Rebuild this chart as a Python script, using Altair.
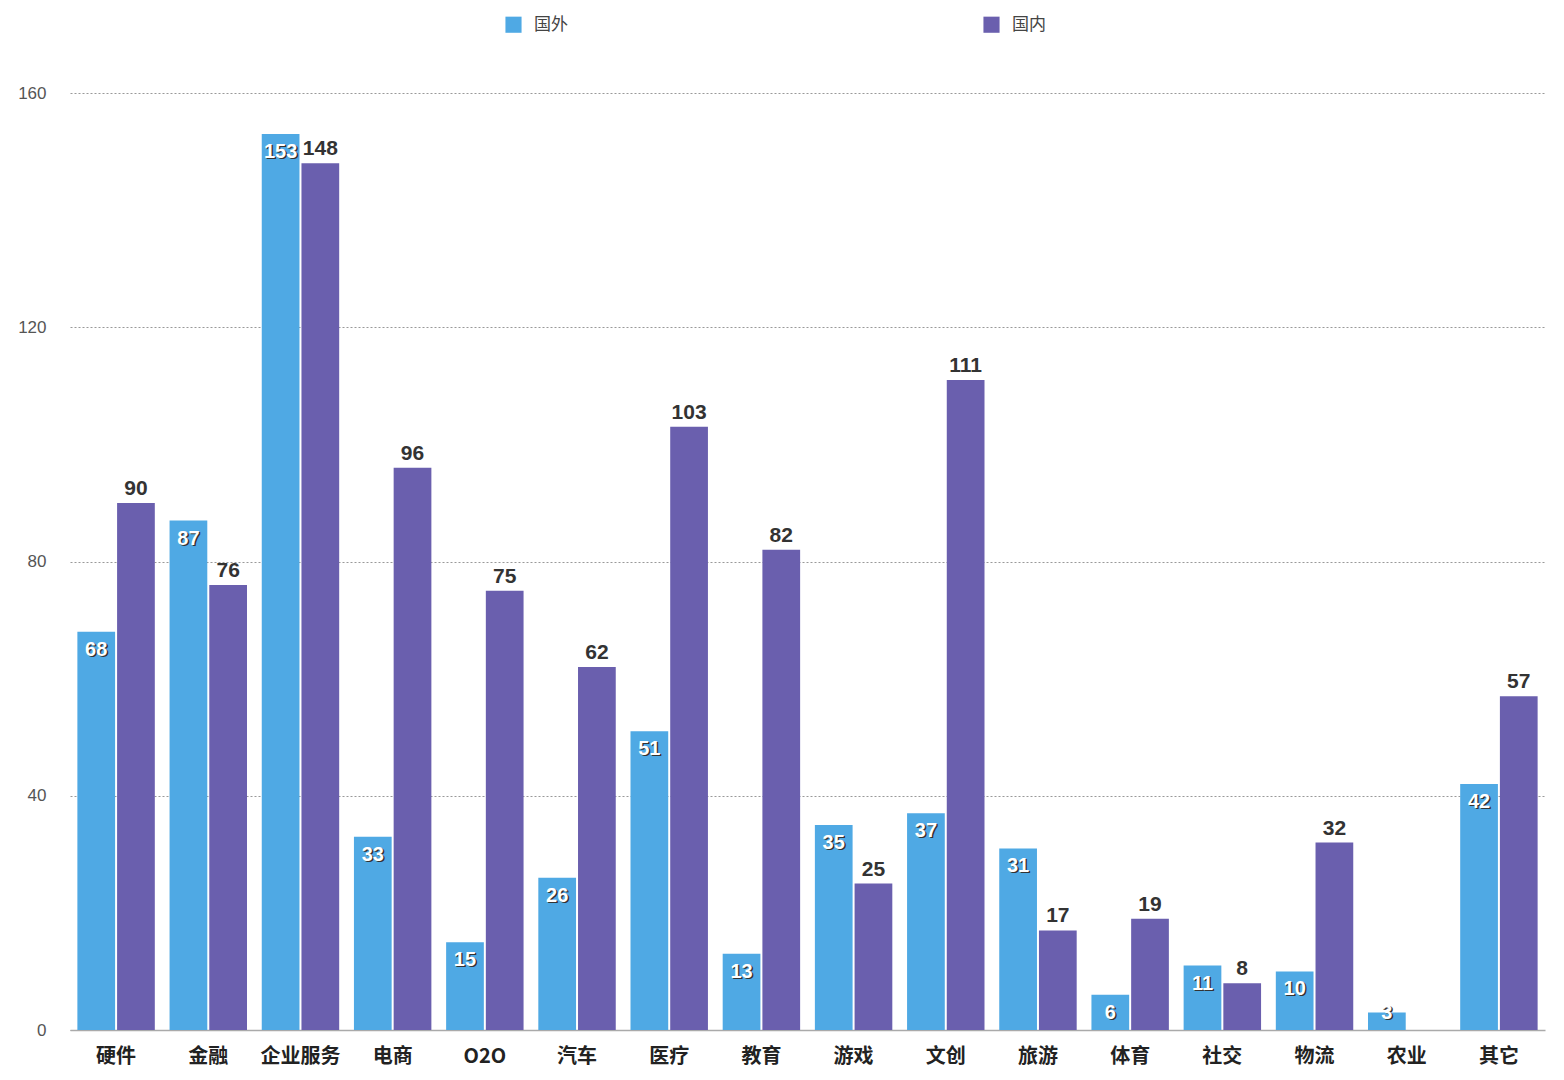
import altair as alt
import pandas as pd

categories = ["硬件", "金融", "企业服务", "电商", "O2O", "汽车", "医疗", "教育",
              "游戏", "文创", "旅游", "体育", "社交", "物流", "农业", "其它"]
foreign = [68, 87, 153, 33, 15, 26, 51, 13, 35, 37, 31, 6, 11, 10, 3, 42]
domestic = [90, 76, 148, 96, 75, 62, 103, 82, 25, 111, 17, 19, 8, 32, None, 57]
series = ["国外", "国内"]
colors = ["#4fa9e4", "#6a5fae"]

rows = []
for c, f, d in zip(categories, foreign, domestic):
    if f is not None:
        rows.append({"cat": c, "series": "国外", "value": f})
    if d is not None:
        rows.append({"cat": c, "series": "国内", "value": d})
df = pd.DataFrame(rows)

FONT = "Noto Sans CJK SC"

x = alt.X("cat:N", sort=categories, title=None,
          scale=alt.Scale(paddingInner=0.16, paddingOuter=0.08),
          axis=alt.Axis(labelAngle=0, labelFontSize=20, labelFontWeight="bold",
                        labelColor="#222", labelPadding=16, ticks=False,
                        domainColor="#aaaaaa", domainWidth=1.5, labelFont=FONT))
xo = alt.XOffset("series:N", sort=series, scale=alt.Scale(paddingInner=0.05))
y = alt.Y("value:Q", title=None,
          scale=alt.Scale(domain=[0, 160], nice=False),
          axis=alt.Axis(values=[0, 40, 80, 120, 160], labelFontSize=17,
                        labelColor="#555", labelPadding=24, ticks=False,
                        domain=False, gridDash=[2, 2], gridColor="#999",
                        gridWidth=1, labelFont="Helvetica"))
color = alt.Color("series:N", sort=series,
                  scale=alt.Scale(domain=series, range=colors),
                  legend=alt.Legend(title=None, orient="none", legendX=435,
                                    legendY=-77, direction="horizontal",
                                    columnPadding=415, symbolType="square",
                                    symbolSize=260, symbolStrokeWidth=0,
                                    labelFontSize=17, labelColor="#444",
                                    labelFont=FONT, labelOffset=12))

x_plain = alt.X("cat:N", sort=categories)
y_lab = alt.Y("labpos:Q")

bars = alt.Chart(df).mark_bar().encode(x=x, xOffset=xo, y=y, color=color)

blue = df[df["series"] == "国外"]
purple = df[df["series"] == "国内"]

shadow = alt.Chart(blue).transform_calculate(
    labpos="max(datum.value, 6)"
).mark_text(
    baseline="top", dy=9, dx=1.5, fontSize=20, fontWeight="bold",
    color="#333", font="Helvetica"
).encode(x=x_plain, xOffset=xo, y=y_lab, text="value:Q")

blue_text = alt.Chart(blue).transform_calculate(
    labpos="max(datum.value, 6)"
).mark_text(
    baseline="top", dy=8, fontSize=20, fontWeight="bold",
    color="white", font="Helvetica"
).encode(x=x_plain, xOffset=xo, y=y_lab, text="value:Q")

purple_text = alt.Chart(purple).mark_text(
    baseline="bottom", dy=-4, fontSize=21, fontWeight="bold",
    color="#333", font="Helvetica"
).encode(x=x_plain, xOffset=xo, y=alt.Y("value:Q"), text="value:Q")

chart = alt.layer(bars, shadow, blue_text, purple_text).properties(
    width=1475, height=937,
    autosize=alt.AutoSizeParams(type="none"),
    padding={"left": 70, "top": 93, "right": 19, "bottom": 50},
    background="white",
).configure_view(stroke=None)

chart.save("out.html", embed_options={"renderer": "svg", "actions": False})
